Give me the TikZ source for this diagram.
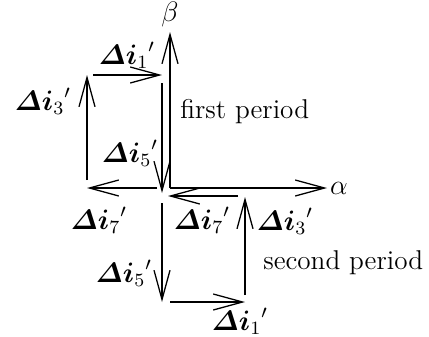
\documentclass[tikz,border=0pt]{standalone}
\usepackage{amsmath}
\usepackage{tikz}
\usetikzlibrary{arrows.meta}

\newcommand{\deltai}[1]{${\boldsymbol{\varDelta i}_{#1}}'$}

\begin{document}
\begin{tikzpicture}[x=0.015cm, y=-0.015cm, font=\fontsize{11.6}{13}\selectfont,
		vec/.style={->, line width=0.55pt}, >={Straight Barb[length=0.44cm, width=0.24cm]}]
			\useasboundingbox (0,0) rectangle (429,336);

			% axes
			\coordinate (o) at (170,188);
			\coordinate (btip) at (170,32);
			\coordinate (atip) at (327,188);
			\draw[vec] (o) -- (btip);
			\draw[vec] (o) -- (atip);
			\node (beta) at (170,14) {$\beta$};
			\node (alpha) at (339,188) {$\alpha$};

			% first period
			\coordinate (p1) at (87,180);
			\coordinate (p2) at (87,75);
			\coordinate (p3) at (93,75);
			\coordinate (p4) at (162,75);
			\coordinate (p5) at (162,83);
			\coordinate (p6) at (162,193);
			\coordinate (p7) at (157,188);
			\coordinate (p8) at (87,188);
			\draw[vec] (p1) -- (p2);
			\draw[vec] (p3) -- (p4);
			\draw[vec] (p5) -- (p6);
			\draw[vec] (p7) -- (p8);
			\node (d1a) at (127,55) {\deltai{1}};
			\node (d3a) at (43,101) {\deltai{3}};
			\node (d5a) at (130,153) {\deltai{5}};
			\node (d7a) at (99,220) {\deltai{7}};
			\node [right] (fp) at (172,112) {first period};

			% second period
			\coordinate (q1) at (238,196);
			\coordinate (q2) at (168,196);
			\coordinate (q3) at (162,203);
			\coordinate (q4) at (162,302);
			\coordinate (q5) at (170,302);
			\coordinate (q6) at (245,302);
			\coordinate (q7) at (245,295);
			\coordinate (q8) at (245,197);
			\draw[vec] (q1) -- (q2);
			\draw[vec] (q3) -- (q4);
			\draw[vec] (q5) -- (q6);
			\draw[vec] (q7) -- (q8);
			\node (d7b) at (202,220) {\deltai{7}};
			\node (d3b) at (285,221) {\deltai{3}};
			\node (d5b) at (124,273) {\deltai{5}};
			\node (d1b) at (240,321) {\deltai{1}};
			\node [right] (sp) at (255,263) {second period};
		\end{tikzpicture}
\end{document}
